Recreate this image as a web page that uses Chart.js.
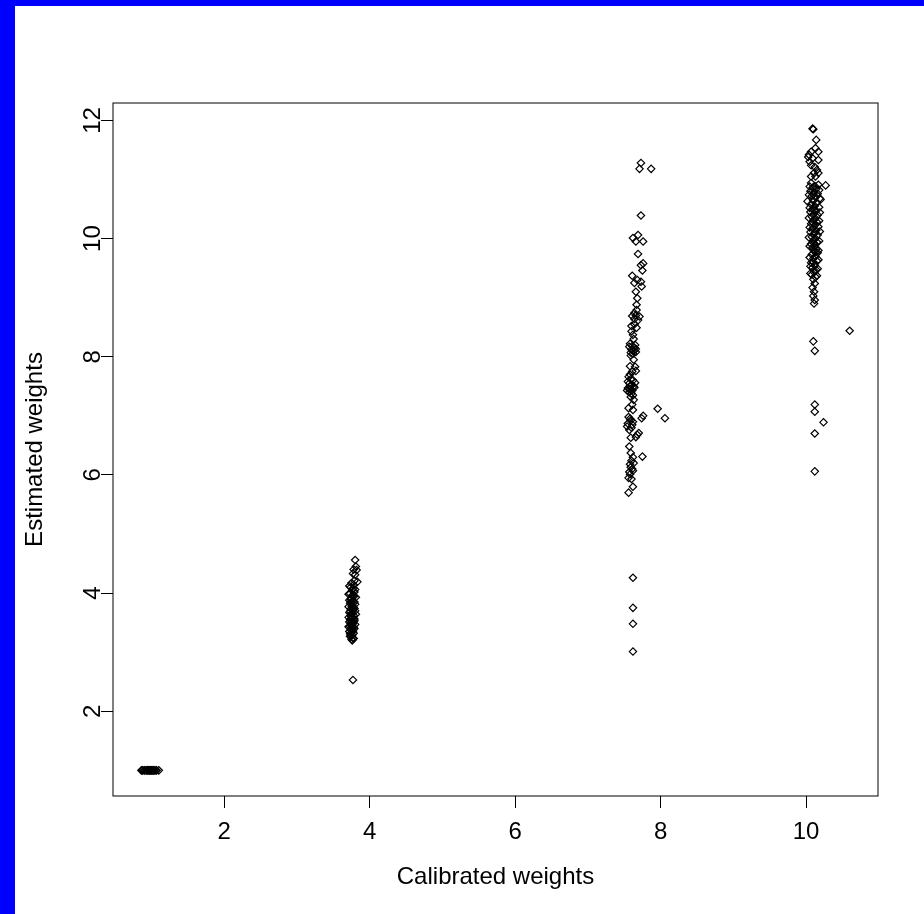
<!DOCTYPE html>
<html>
<head>
<meta charset="utf-8">
<script src="https://cdn.jsdelivr.net/npm/chart.js@4/dist/chart.umd.min.js"></script>
<style>
  html, body { margin: 0; padding: 0; background: #0000ff; overflow: hidden; }
  #frame { position: absolute; left: 15px; top: 6px; width: 909px; height: 908px; background: #ffffff; }
</style>
</head>
<body>
<div id="frame"><canvas id="myChart" width="909" height="908"></canvas></div>
<script>
const xTitle = 'Calibrated weights';
const yTitle = 'Estimated weights';
const xTicks = [2, 4, 6, 8, 10];
const yTicks = [2, 4, 6, 8, 10, 12];

// [calibrated, estimated] pairs
const group1 = [
    [0.86, 1.0], [0.87, 1.0], [0.88, 1.0], [0.9, 1.0], [0.91, 1.0], [0.93, 1.0], [0.94, 1.0],
    [0.95, 1.0], [0.96, 1.0], [0.97, 1.0], [0.98, 1.0], [0.99, 1.0], [1.0, 1.0], [1.01, 1.0],
    [1.02, 1.0], [1.03, 1.0], [1.04, 1.0], [1.06, 1.0], [1.07, 1.0], [1.1, 1.0],
];

const group2 = [
    [3.80, 4.56], [3.81, 4.45], [3.78, 4.40], [3.82, 4.39], [3.77, 4.33], [3.80, 4.31],
    [3.79, 4.21], [3.83, 4.19], [3.75, 4.17], [3.78, 4.14], [3.74, 4.10], [3.77, 4.08],
    [3.76, 4.05], [3.79, 4.02], [3.73, 3.99], [3.76, 3.96], [3.78, 3.94], [3.75, 3.91],
    [3.74, 3.89], [3.77, 3.86], [3.79, 3.85], [3.73, 3.83], [3.76, 3.80], [3.75, 3.78],
    [3.78, 3.76], [3.74, 3.73], [3.77, 3.72], [3.80, 3.70], [3.73, 3.69], [3.76, 3.66],
    [3.75, 3.65], [3.78, 3.62], [3.74, 3.61], [3.77, 3.58], [3.75, 3.57], [3.73, 3.55],
    [3.79, 3.53], [3.76, 3.52], [3.74, 3.49], [3.77, 3.48], [3.75, 3.45], [3.73, 3.44],
    [3.78, 3.42], [3.76, 3.39], [3.74, 3.38], [3.77, 3.36], [3.75, 3.33], [3.73, 3.31],
    [3.76, 3.29], [3.74, 3.26], [3.77, 3.24], [3.75, 3.22], [3.76, 3.20], [3.77, 2.53],
    [3.72, 4.12], [3.80, 4.06], [3.71, 3.98], [3.81, 3.93], [3.72, 3.88], [3.80, 3.81],
    [3.71, 3.77], [3.79, 3.74], [3.72, 3.67], [3.81, 3.64], [3.71, 3.59], [3.79, 3.56],
    [3.72, 3.51], [3.80, 3.47], [3.71, 3.43], [3.79, 3.40], [3.72, 3.35], [3.78, 3.32],
    [3.73, 3.27], [3.78, 3.23], [3.75, 3.84], [3.76, 3.71], [3.76, 3.43], [3.75, 3.60],
    [3.77, 3.95],
];

const group3 = [
    [7.73, 11.28], [7.71, 11.18], [7.87, 11.18], [7.73, 10.39], [7.69, 10.06], [7.62, 10.01],
    [7.66, 9.95], [7.76, 9.95], [7.69, 9.74], [7.76, 9.58], [7.73, 9.55], [7.75, 9.46],
    [7.61, 9.37], [7.68, 9.30], [7.64, 9.25], [7.73, 9.27], [7.74, 9.19], [7.66, 9.10],
    [7.68, 8.99], [7.67, 8.88], [7.67, 8.79], [7.61, 8.69], [7.66, 8.70], [7.71, 8.68],
    [7.64, 8.74], [7.69, 8.62], [7.60, 8.52], [7.64, 8.55], [7.67, 8.49], [7.62, 8.37],
    [7.58, 8.22], [7.61, 8.18], [7.64, 8.15], [7.60, 8.12], [7.63, 8.10], [7.66, 8.13],
    [7.59, 8.07], [7.62, 8.05], [7.65, 8.20], [7.63, 7.95], [7.58, 7.84], [7.65, 7.83],
    [7.61, 7.75], [7.66, 7.76], [7.56, 7.66], [7.59, 7.62], [7.62, 7.60], [7.57, 7.55],
    [7.60, 7.52], [7.63, 7.50], [7.55, 7.47], [7.58, 7.45], [7.61, 7.43], [7.64, 7.48],
    [7.57, 7.40], [7.60, 7.38], [7.63, 7.27], [7.61, 7.19], [7.56, 7.13], [7.62, 7.10],
    [7.96, 7.12], [8.06, 6.96], [7.76, 7.00], [7.74, 6.96], [7.56, 6.98], [7.59, 6.92],
    [7.55, 6.87], [7.61, 6.85], [7.57, 6.76], [7.70, 6.71], [7.66, 6.64], [7.68, 6.68],
    [7.59, 6.63], [7.57, 6.48], [7.59, 6.37], [7.62, 6.30], [7.60, 6.24], [7.63, 6.20],
    [7.59, 6.13], [7.62, 6.07], [7.58, 6.01], [7.56, 5.95], [7.75, 6.31], [7.60, 5.93],
    [7.62, 5.80], [7.56, 5.70], [7.62, 4.26], [7.62, 3.75], [7.62, 3.48], [7.62, 3.01],
    [7.57, 8.17], [7.66, 8.08], [7.59, 8.02], [7.55, 7.58], [7.65, 7.56], [7.58, 7.50],
    [7.54, 7.43], [7.62, 7.35], [7.59, 7.32], [7.58, 6.95], [7.62, 6.90], [7.54, 6.82],
    [7.60, 6.80], [7.58, 6.18], [7.61, 6.10], [7.57, 6.05], [7.63, 8.30], [7.60, 8.43],
    [7.64, 8.64], [7.58, 7.70],
];

const group4 = [
    [10.09, 11.86], [10.10, 11.85], [10.14, 11.67], [10.13, 11.53], [10.07, 11.47], [10.17, 11.47],
    [10.03, 11.38], [10.09, 11.36], [10.17, 11.33], [10.07, 11.24], [10.12, 11.21], [10.11, 11.11],
    [10.17, 11.11], [10.07, 11.05], [10.13, 11.05], [10.27, 10.90], [10.07, 10.94], [10.17, 10.91],
    [10.09, 10.86], [10.14, 10.84], [10.06, 10.80], [10.11, 10.78], [10.16, 10.76], [10.08, 10.72],
    [10.13, 10.70], [10.19, 10.68], [10.02, 10.63], [10.10, 10.64], [10.15, 10.61], [10.07, 10.58],
    [10.12, 10.55], [10.18, 10.53], [10.09, 10.50], [10.14, 10.47], [10.06, 10.45], [10.11, 10.42],
    [10.16, 10.40], [10.08, 10.37], [10.13, 10.34], [10.10, 10.31], [10.15, 10.28], [10.07, 10.25],
    [10.12, 10.22], [10.17, 10.20], [10.09, 10.17], [10.14, 10.14], [10.06, 10.11], [10.11, 10.08],
    [10.16, 10.06], [10.08, 10.03], [10.13, 10.00], [10.10, 9.97], [10.15, 9.94], [10.07, 9.91],
    [10.12, 9.88], [10.09, 9.85], [10.14, 9.82], [10.11, 9.79], [10.16, 9.76], [10.08, 9.73],
    [10.13, 9.70], [10.10, 9.66], [10.15, 9.62], [10.07, 9.59], [10.12, 9.55], [10.09, 9.51],
    [10.14, 9.47], [10.11, 9.43], [10.08, 9.39], [10.13, 9.35], [10.10, 9.31], [10.12, 9.24],
    [10.09, 9.17], [10.11, 9.10], [10.10, 9.03], [10.12, 8.96], [10.11, 8.90],
    [10.60, 8.44], [10.10, 8.26], [10.12, 8.10], [10.12, 7.19], [10.12, 7.07], [10.24, 6.89],
    [10.12, 6.70], [10.12, 6.06],
    [10.05, 10.88], [10.18, 10.82], [10.04, 10.74], [10.20, 10.66], [10.05, 10.52], [10.19, 10.44],
    [10.04, 10.35], [10.18, 10.30], [10.05, 10.19], [10.19, 10.12], [10.04, 10.02], [10.18, 9.96],
    [10.05, 9.87], [10.17, 9.80], [10.05, 9.68], [10.17, 9.64], [10.06, 9.53], [10.16, 9.49],
    [10.06, 9.41], [10.15, 9.37], [10.12, 10.89], [10.10, 10.75], [10.14, 10.60], [10.11, 10.48],
    [10.10, 10.27], [10.12, 10.10], [10.11, 9.92], [10.13, 9.77], [10.10, 9.60], [10.12, 9.45],
    [10.05, 11.30], [10.15, 11.16], [10.04, 11.42],
];

const groups = [group1, group2, group3, group4];
const fontFamily = '"Liberation Sans", Arial, sans-serif';

// R style axis range: data range stretched by 4% each side
const allPairs = [].concat(...groups);
const xs = allPairs.map(p => p[0]);
const ys = allPairs.map(p => p[1]);
const xMin = Math.min(...xs), xMax = Math.max(...xs);
const yMin = Math.min(...ys), yMax = Math.max(...ys);
const xPad = (xMax - xMin) * 0.04;
const yPad = (yMax - yMin) * 0.04;

const datasets = groups.map(g => ({
    data: g.map(p => ({ x: p[0], y: p[1] })),
    pointStyle: 'rectRot',
    pointRadius: 3.7,
    pointBorderWidth: 1.2,
    pointBorderColor: '#000000',
    pointBackgroundColor: 'rgba(0,0,0,0)',
    showLine: false,
}));

const boxPlugin = {
    id: 'rbox',
    afterDraw(chart) {
        const { ctx, chartArea: a } = chart;
        ctx.save();
        ctx.strokeStyle = '#000000';
        ctx.lineWidth = 1;
        ctx.strokeRect(a.left, a.top, a.right - a.left, a.bottom - a.top);
        // y tick labels turned like in R
        const yScale = chart.scales.y;
        ctx.fillStyle = '#000000';
        ctx.font = '24px ' + fontFamily;
        ctx.textAlign = 'center';
        ctx.textBaseline = 'middle';
        yTicks.forEach(v => {
            ctx.save();
            ctx.translate(a.left - 20, yScale.getPixelForValue(v));
            ctx.rotate(-Math.PI / 2);
            ctx.fillText(String(v), 0, 0);
            ctx.restore();
        });
        ctx.restore();
    }
};

const config = {
    type: 'scatter',
    data: { datasets: datasets },
    options: {
        responsive: false,
        animation: false,
        events: [],
        layout: { padding: { top: 97, right: 46, left: 0, bottom: 0 } },
        plugins: { legend: { display: false }, tooltip: { enabled: false } },
        scales: {
            x: {
                type: 'linear',
                min: xMin - xPad,
                max: xMax + xPad,
                afterBuildTicks: axis => { axis.ticks = xTicks.map(v => ({ value: v })); },
                afterFit: axis => { axis.height = 118; },
                grid: { drawOnChartArea: false, drawTicks: true, tickLength: 12, color: '#000000', tickColor: '#000000' },
                border: { display: false },
                ticks: { color: '#000000', font: { family: fontFamily, size: 24 }, padding: 10, maxRotation: 0 },
                title: { display: true, text: xTitle, color: '#000000', font: { family: fontFamily, size: 24 }, padding: { top: 0, bottom: 22 } },
            },
            y: {
                type: 'linear',
                min: yMin - yPad,
                max: yMax + yPad,
                afterBuildTicks: axis => { axis.ticks = yTicks.map(v => ({ value: v })); },
                afterFit: axis => { axis.width = 98; },
                grid: { drawOnChartArea: false, drawTicks: true, tickLength: 12, color: '#000000', tickColor: '#000000' },
                border: { display: false },
                ticks: { display: false },
                title: { display: true, text: yTitle, color: '#000000', font: { family: fontFamily, size: 24 }, padding: { top: 6, bottom: 0 } },
            },
        },
    },
    plugins: [boxPlugin],
};

const myChart = new Chart(document.getElementById('myChart'), config);
</script>
</body>
</html>
